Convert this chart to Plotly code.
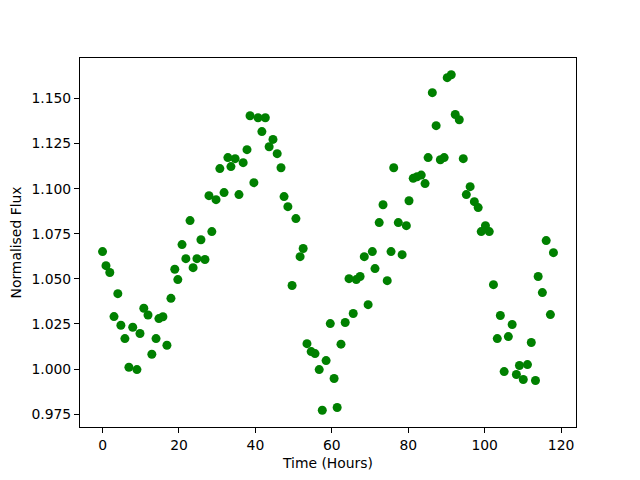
import plotly.graph_objects as go

time_hours = [0, 0.9, 1.9, 3.0, 4.0, 4.8, 5.85, 6.9, 7.9, 9.0,
              9.8, 10.8, 11.9, 12.9, 14.0, 14.75, 15.8, 16.85, 17.9, 18.9,
              19.7, 20.8, 21.8, 22.9, 23.7, 24.7, 25.75, 26.8, 27.85, 28.6,
              29.7, 30.7, 31.8, 32.8, 33.6, 34.7, 35.7, 36.8, 37.8, 38.6,
              39.6, 40.7, 41.7, 42.6, 43.6, 44.6, 45.7, 46.7, 47.5, 48.5,
              49.6, 50.6, 51.7, 52.5, 53.5, 54.6, 55.6, 56.7, 57.5, 58.5,
              59.6, 60.6, 61.4, 62.4, 63.5, 64.5, 65.6, 66.4, 67.4, 68.5,
              69.5, 70.6, 71.3, 72.4, 73.4, 74.5, 75.5, 76.2, 77.4, 78.4,
              79.5, 80.2, 81.3, 82.3, 83.4, 84.4, 85.2, 86.3, 87.3, 88.4,
              89.4, 90.2, 91.25, 92.3, 93.35, 94.4, 95.2, 96.2, 97.3, 98.3,
              99.1, 100.2, 101.2, 102.3, 103.3, 104.1, 105.1, 106.2, 107.2, 108.3,
              109.1, 110.1, 111.2, 112.2, 113.3, 114.0, 115.1, 116.1, 117.2, 118.0]

norm_flux = [1.0651, 1.0573, 1.0535, 1.0291, 1.0418, 1.0243, 1.0169, 1.0010, 1.0232, 0.9997,
             1.0197, 1.0337, 1.0300, 1.0082, 1.0169, 1.0280, 1.0290, 1.0132, 1.0392, 1.0553,
             1.0496, 1.0690, 1.0612, 1.0823, 1.0562, 1.0612, 1.0717, 1.0607, 1.0961, 1.0762,
             1.0939, 1.1111, 1.0978, 1.1172, 1.1122, 1.1166, 1.0967, 1.1144, 1.1216, 1.1404,
             1.1033, 1.1393, 1.1316, 1.1393, 1.1232, 1.1273, 1.1194, 1.1116, 1.0956, 1.0900,
             1.0463, 1.0834, 1.0623, 1.0668, 1.0141, 1.0097, 1.0086, 0.9997, 0.9772, 1.0047,
             1.0252, 0.9948, 0.9787, 1.0138, 1.0258, 1.0501, 1.0308, 1.0496, 1.0513, 1.0623,
             1.0357, 1.0651, 1.0557, 1.0812, 1.0911, 1.0490, 1.0651, 1.1116, 1.0812, 1.0634,
             1.0795, 1.0933, 1.1057, 1.1066, 1.1075, 1.1028, 1.1172, 1.1532, 1.1349, 1.1160,
             1.1172, 1.1615, 1.1631, 1.1411, 1.1382, 1.1166, 1.0967, 1.1011, 1.0928, 1.0895,
             1.0762, 1.0795, 1.0762, 1.0468, 1.0169, 1.0297, 0.9986, 1.0180, 1.0247, 0.9970,
             1.0020, 0.9942, 1.0025, 1.0147, 0.9937, 1.0513, 1.0424, 1.0712, 1.0302, 1.0645]

x_ticks = [0, 20, 40, 60, 80, 100, 120]
y_ticks = [0.975, 1.000, 1.025, 1.050, 1.075, 1.100, 1.125, 1.150]

fig = go.Figure(go.Scatter(
    x=time_hours, y=norm_flux, mode="markers",
    marker=dict(color="#008000", size=9, line=dict(width=0)),
))

axis_common = dict(
    showline=True, linecolor="black", linewidth=1, mirror=True,
    ticks="outside", ticklen=5, tickcolor="black", tickwidth=1,
    showgrid=False, zeroline=False, automargin=False,
    tickfont=dict(family="DejaVu Sans", size=13.9, color="black"),
)

fig.update_layout(
    width=640, height=480,
    margin=dict(l=72, r=72, t=50, b=61),
    paper_bgcolor="white", plot_bgcolor="white",
    showlegend=False,
    font=dict(family="DejaVu Sans", size=13.9, color="black"),
    xaxis=dict(range=[-5.9, 123.9], tickvals=x_ticks,
               ticktext=[str(v) for v in x_ticks],
               title=dict(text="Time (Hours)", font=dict(size=13.9), standoff=6),
               **axis_common),
    yaxis=dict(range=[0.9679, 1.1724], tickvals=y_ticks,
               ticktext=[f"{v:.3f}" for v in y_ticks],
               title=dict(text="Normalised Flux", font=dict(size=13.9), standoff=6),
               **axis_common),
)

fig.write_html("out.html")
